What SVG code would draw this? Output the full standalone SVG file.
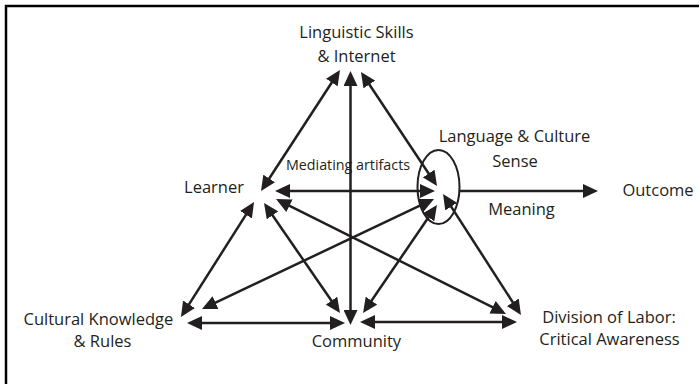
<svg xmlns="http://www.w3.org/2000/svg" width="700" height="384" viewBox="0 0 700 384">
<style>
.t{font-family:"Open Sans","Liberation Sans",sans-serif;font-size:16.5px;fill:#231f20;text-anchor:middle}
.s{font-size:14.3px}
.c line{stroke:#231f20;stroke-width:2.5;marker-end:url(#a)}
.c line.b{marker-start:url(#a)}
</style>
<defs>
<marker id="a" viewBox="0 0 15 14" refX="11" refY="7" markerWidth="15" markerHeight="14" markerUnits="userSpaceOnUse" orient="auto-start-reverse">
<path d="M0,0 L15,7 L0,14 z" fill="#231f20"/>
</marker>
</defs>
<rect width="700" height="384" fill="#fff"/>
<path d="M6,384 V6 H699" fill="none" stroke="#000" stroke-width="2.5"/>
<g id="connectors" class="c">
<line class="b" x1="263.2" y1="187.7" x2="337.8" y2="73.3"/>
<line class="b" x1="363.2" y1="75.3" x2="434.8" y2="182.7"/>
<line class="b" x1="350.5" y1="75" x2="350.5" y2="321"/>
<line class="b" x1="279" y1="191" x2="431" y2="191"/>
<line x1="459" y1="191" x2="594" y2="191"/>
<line class="b" x1="251.9" y1="205.4" x2="183.1" y2="313.6"/>
<line class="b" x1="266.3" y1="206.3" x2="337.7" y2="309.7"/>
<line class="b" x1="279.6" y1="200.8" x2="502.4" y2="312.2"/>
<line class="b" x1="430.4" y1="200.7" x2="205.6" y2="307.3"/>
<line class="b" x1="434.7" y1="208.3" x2="365.3" y2="309.7"/>
<line class="b" x1="445.2" y1="197.4" x2="518.8" y2="311.6"/>
<line class="b" x1="191" y1="323" x2="341" y2="323"/>
<line class="b" x1="364" y1="322" x2="513" y2="322"/>
</g>
<g id="linguistic"><text class="t" x="356.5" y="38">Linguistic Skills</text><text class="t" x="356.5" y="62">&amp; Internet</text></g>
<g id="language"><ellipse cx="438.5" cy="187" rx="21" ry="37" fill="none" stroke="#231f20" stroke-width="2"/><text class="t" x="514.5" y="142">Language &amp; Culture</text><text class="t" x="515" y="167">Sense</text></g>
<g id="outcome"><text class="t" x="658" y="196">Outcome</text></g>
<g id="learner"><text class="t" x="214" y="193">Learner</text></g>
<g id="mediating"><text class="t s" x="348" y="170">Mediating artifacts</text></g>
<g id="meaning"><text class="t" x="521.5" y="215">Meaning</text></g>
<g id="cultural"><text class="t" x="98.4" y="325">Cultural Knowledge</text><text class="t" x="102.5" y="347">&amp; Rules</text></g>
<g id="community"><text class="t" x="356.4" y="347">Community</text></g>
<g id="division"><text class="t" x="609" y="323">Division of Labor:</text><text class="t" x="609.5" y="345">Critical Awareness</text></g>
</svg>
